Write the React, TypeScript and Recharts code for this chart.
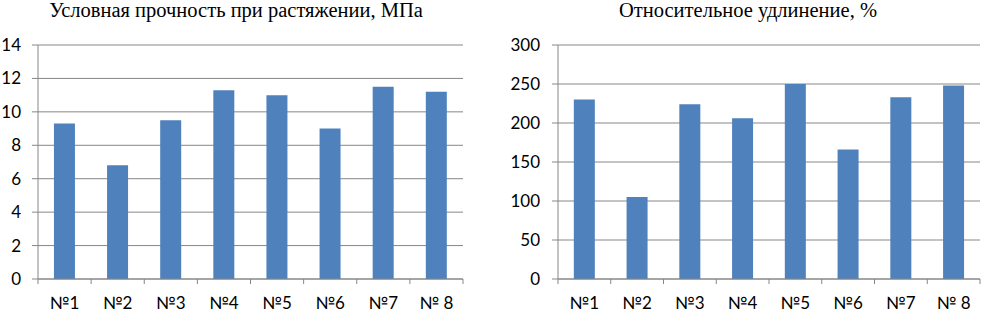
import React from "react";
import { BarChart, Bar, XAxis, YAxis, CartesianGrid } from "recharts";

const categories = ["№1", "№2", "№3", "№4", "№5", "№6", "№7", "№ 8"];
const strengthValues = [9.3, 6.8, 9.5, 11.3, 11.0, 9.0, 11.5, 11.2];
const elongationValues = [230, 105, 224, 206, 250, 166, 233, 248];
const strengthTicks = [0, 2, 4, 6, 8, 10, 12, 14];
const elongationTicks = [0, 50, 100, 150, 200, 250, 300];
const strengthTitle = "Условная прочность при растяжении, МПа";
const elongationTitle = "Относительное удлинение, %";

const strengthData = categories.map((c, i) => ({ name: c, value: strengthValues[i] }));
const elongationData = categories.map((c, i) => ({ name: c, value: elongationValues[i] }));

const GRID = "#878787";
const BAR = "#4F81BD";
const TICK_FONT = "Lato, 'Noto Sans', sans-serif";

const CatTick = (props: any) => {
  const { x, y, payload, index } = props;
  const half = payload && payload.offset ? payload.offset : 26.5;
  const last = index === categories.length - 1;
  return (
    <g>
      <line x1={x - half} y1={y} x2={x - half} y2={y + 5} stroke={GRID} strokeWidth={1} />
      {last && <line x1={x + half} y1={y} x2={x + half} y2={y + 5} stroke={GRID} strokeWidth={1} />}
      <text x={x} y={y + 30} textAnchor="middle" fontFamily={TICK_FONT} fontSize={17} fill="#000">
        {payload.value}
      </text>
    </g>
  );
};

const Panel = ({ data, ticks, yWidth, width, marginRight, tickMargin }: any) => (
  <BarChart
    width={width}
    height={313}
    data={data}
    margin={{ top: 45, right: marginRight, bottom: 4, left: 0 }}
    barCategoryGap="30%"
  >
    <CartesianGrid vertical={false} stroke={GRID} strokeWidth={1} />
    <XAxis
      dataKey="name"
      height={30}
      tickLine={false}
      tickSize={0}
      tickMargin={0}
      axisLine={{ stroke: GRID }}
      tick={<CatTick />}
      interval={0}
    />
    <YAxis
      width={yWidth}
      domain={[ticks[0], ticks[ticks.length - 1]]}
      ticks={ticks}
      interval={0}
      tickSize={6}
      tickMargin={tickMargin}
      tickLine={{ stroke: GRID }}
      axisLine={{ stroke: GRID }}
      tick={{ fontFamily: TICK_FONT, fontSize: 17, fill: "#000" }}
    />
    <Bar dataKey="value" fill={BAR} isAnimationActive={false} />
  </BarChart>
);

export default function App() {
  return (
    <div style={{ position: "absolute", left: 0, top: 0, width: 981, height: 313, background: "#fff", overflow: "hidden" }}>
      <div style={{ position: "absolute", left: 0, top: 0 }}>
        <Panel data={strengthData} ticks={strengthTicks} yWidth={38} width={480} marginRight={17} tickMargin={11} />
      </div>
      <div style={{ position: "absolute", left: 490, top: 0 }}>
        <Panel data={elongationData} ticks={elongationTicks} yWidth={68} width={491} marginRight={1} tickMargin={12} />
      </div>
      <svg width={981} height={30} style={{ position: "absolute", left: 0, top: 0 }}>
        <text x={236} y={17} textAnchor="middle" fontFamily="'Liberation Serif', 'Times New Roman', serif" fontSize={20.5} fill="#000">
          {strengthTitle}
        </text>
        <text x={748} y={17} textAnchor="middle" fontFamily="'Liberation Serif', 'Times New Roman', serif" fontSize={20.5} fill="#000">
          {elongationTitle}
        </text>
      </svg>
    </div>
  );
}
